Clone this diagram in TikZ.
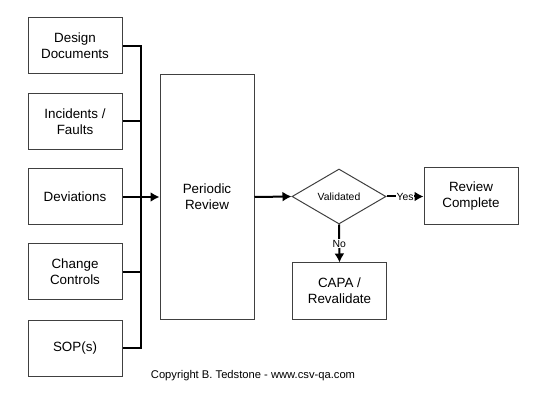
\documentclass[tikz,border=0pt]{standalone}
\usepackage{fontspec}
\setmainfont{Liberation Sans}
\usetikzlibrary{shapes.geometric,arrows.meta}
\tikzset{
    box/.style={draw=black!75, line width=1pt, minimum width=94pt, minimum height=56pt, align=center, inner sep=2pt, font=\fontsize{13.4}{16}\selectfont},
    conn/.style={line width=2pt},
    lbl/.style={fill=white, inner sep=1pt, font=\fontsize{10.4}{12}\selectfont}
}
\begin{document}
\begin{tikzpicture}[>={Latex[length=9pt,width=10pt]}, x=1pt, y=-1pt]
\useasboundingbox (0,0) rectangle (547,401);
% inputs
\node[box] (design) at (75,46) {Design\\Documents};
\node[box] (incidents) at (75,121.5) {Incidents /\\Faults};
\node[box] (deviations) at (75,197) {Deviations};
\node[box] (change) at (75,272) {Change\\Controls};
\node[box] (sop) at (75,348) {SOP(s)};
\coordinate (bus) at (140.5,0);
% review and decision
\node[box, minimum height=244pt] (review) at (207,197) {Periodic\\Review};
\node[draw=black!75, line width=1pt, diamond, aspect=1.71, minimum width=94pt, minimum height=55pt, inner sep=0pt, font=\fontsize{10.4}{12}\selectfont] (valid) at (339,196.5) {Validated};
\node[box, minimum height=57pt] (complete) at (471,196.5) {Review\\Complete};
\node[box] (capa) at (339.5,291) {CAPA /\\Revalidate};
% connectors
\draw[conn] (design.east) -- (design.east -| bus) -- (sop.east -| bus) -- (sop.east);
\foreach \n in {incidents,change}
{
    \draw[conn] (\n.east) -- (\n.east -| bus);
}
\draw[conn,->] (deviations.east) -- (review.west);
\draw[conn,->] (review.east) -- (valid.west);
\draw[conn,->] (valid.east) -- node[lbl]{Yes} (complete.west);
\draw[conn,->] (valid.south) -- node[lbl]{No} (capa.north);
\node[font=\fontsize{11.2}{13}\selectfont] (copy) at (253,376) {Copyright B. Tedstone - www.csv-qa.com};
\end{tikzpicture}
\end{document}
